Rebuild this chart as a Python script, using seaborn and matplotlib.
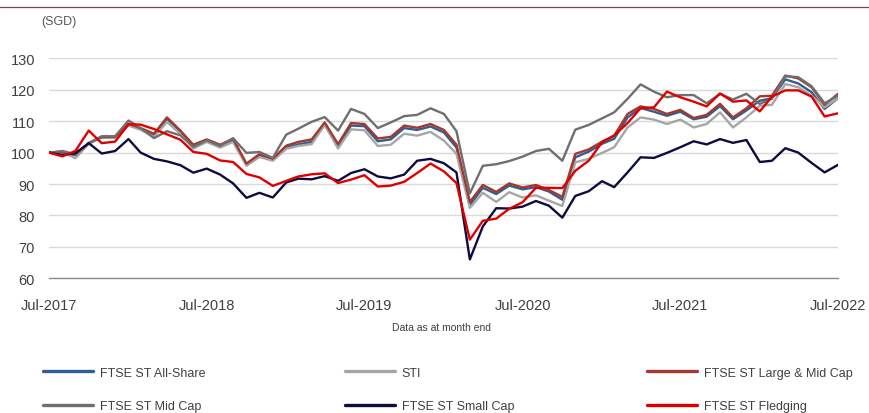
import pandas as pd
import matplotlib
matplotlib.use("Agg")
import matplotlib.pyplot as plt
from matplotlib.lines import Line2D
import seaborn as sns

# monthly index values, Jul-2017 .. Jul-2022 (rebased to 100)
months = pd.date_range('2017-07-31', periods=61, freq='ME')

all_share = [100, 100.1, 99.2, 103, 104.8, 104.8, 108.8, 107.5, 105.6, 110.8, 106.6, 102,
             103.8, 102.1, 104, 96.1, 99.1, 97.8, 101.6, 102.6, 103.4, 108.9, 102, 108.6,
             108.4, 103.6, 104.2, 107.8, 107.2, 108.3, 106.4, 101.6, 83.3, 88.8, 86.8, 89.5,
             88.3, 89, 87.6, 85, 98.5, 100.3, 102.8, 104.4, 111.2, 114.2, 113, 111.7,
             113, 110.6, 111.4, 114.8, 110.6, 113.4, 116.5, 117.3, 123.3, 122, 119.2, 113.9,
             117.3]
sti = [100, 100.3, 98.2, 102.8, 105, 104.6, 108.6, 107.3, 105, 109.7, 106, 101.3,
       103.4, 101.6, 103.4, 95.8, 98.6, 97.4, 101.2, 102.1, 102.7, 108.8, 101.3, 107.4,
       107.1, 102.1, 102.5, 106, 105.4, 106.6, 103.8, 99.6, 82.4, 87.2, 84.3, 87.4,
       85.7, 86.4, 84.7, 83, 96.9, 98, 99.9, 101.7, 108, 111.2, 110.5, 109.1,
       110.5, 108, 109.1, 112.8, 108, 111.2, 114.9, 115.2, 121.8, 120.8, 118.1, 114.4,
       117.3]
large_mid = [100, 100.2, 99.3, 103, 105, 105, 109.2, 107.8, 106, 111.2, 107, 102.5,
             104.2, 102.5, 104.4, 96.5, 99.5, 98.1, 102.2, 103.4, 104.2, 109.6, 102.7, 109.4,
             109.1, 104.5, 105, 108.6, 107.9, 109.1, 107.2, 102.5, 84.3, 89.7, 87.5, 90.2,
             88.9, 89.7, 88.1, 85.9, 99.6, 101, 103.5, 105.4, 112.3, 114.7, 113.9, 112.3,
             113.6, 111, 112, 115.5, 111.2, 114.1, 117.9, 118.1, 124.5, 123.6, 120.8, 115.2,
             118.7]
mid_cap = [100, 100.5, 99.5, 103, 105.2, 105.2, 110.2, 107.8, 104.6, 106.8, 105.5, 101.8,
           103.9, 102.1, 104.6, 99.9, 100.2, 98.3, 105.7, 107.6, 109.8, 111.3, 107, 113.9,
           112.3, 107.8, 109.6, 111.6, 112, 114.1, 112.3, 106.8, 87, 95.8, 96.3, 97.3,
           98.7, 100.5, 101.2, 97.4, 107.3, 108.8, 110.9, 112.8, 117.1, 121.7, 119.4, 117.6,
           118.3, 118.3, 115.7, 118.7, 116.9, 118.7, 115.5, 117.1, 124.3, 124, 121.1, 115.7,
           118.1]
small_cap = [100, 99.2, 99.8, 103, 99.7, 100.5, 104.3, 100, 98, 97.2, 96, 93.6,
             94.9, 93, 90.2, 85.6, 87.2, 85.7, 90.5, 91.7, 91.5, 92.5, 91, 93.5,
             94.7, 92.4, 91.8, 93, 97.4, 98, 96.6, 93.7, 66, 76.5, 82.3, 82.2,
             82.8, 84.6, 83.1, 79.3, 86.2, 87.7, 90.9, 89, 93.7, 98.5, 98.3, 99.9,
             101.7, 103.6, 102.6, 104.3, 103.1, 104, 97, 97.4, 101.4, 100, 96.7, 93.7,
             96.1]
fledging = [100, 98.8, 100.5, 107, 103, 103.5, 109, 108.9, 107.5, 105.8, 104.1, 100.2,
            99.6, 97.5, 97, 93.2, 92.1, 89.4, 91, 92.4, 93.1, 93.4, 90.3, 91.4,
            92.8, 89.2, 89.5, 90.7, 93.5, 96.5, 94, 90.3, 72.3, 78.3, 79, 82.1,
            84.2, 88.8, 88.8, 88.7, 94.2, 97.4, 103.3, 105.4, 109.4, 114.1, 114.4, 119.4,
            117.6, 116.2, 114.7, 118.8, 116.2, 116.6, 113.1, 117.8, 119.8, 119.8, 117.8, 111.5,
            112.5]

names = ['FTSE ST All-Share', 'STI', 'FTSE ST Large & Mid Cap',
         'FTSE ST Mid Cap', 'FTSE ST Small Cap', 'FTSE ST Fledging']
colors = ['#2f5f92', '#a6a6a6', '#a5382c', '#6f6f6f', '#0c0c40', '#e00000']
series = [all_share, sti, large_mid, mid_cap, small_cap, fledging]

df = pd.concat([pd.DataFrame({'date': months, 'value': s, 'index': n})
                for n, s in zip(names, series)], ignore_index=True)

sns.set_style('white')
plt.rcParams['font.family'] = ['Liberation Sans', 'DejaVu Sans']

fig = plt.figure(figsize=(8.7, 4.14), dpi=100)
ax = fig.add_axes([49/870, 1-279.3/414, (838-49)/870, 220/414])

sns.lineplot(data=df, x='date', y='value', hue='index', hue_order=names,
             palette=dict(zip(names, colors)), linewidth=1.7, legend=False, ax=ax)

ax.set_ylim(60, 130)
ax.set_xlim(months[0], months[-1])
ax.set_yticks(range(60, 131, 10))
ax.set_xticks(months[::12])
ax.set_xticklabels([d.strftime('%b-%Y') for d in months[::12]])
ax.yaxis.grid(True, color='#d9d9d9', linewidth=1.0)
ax.set_axisbelow(True)
for s in ['top', 'right', 'left']:
    ax.spines[s].set_visible(False)
ax.spines['bottom'].set_color('#8c8c8c')
ax.spines['bottom'].set_linewidth(1.0)
ax.tick_params(axis='y', length=0, pad=10, labelsize=10.5, labelcolor='#404040')
ax.tick_params(axis='x', length=3.5, width=1.0, color='#8c8c8c', direction='out',
               pad=11, labelsize=10.5, labelcolor='#404040')
ax.set_xlabel('')
ax.set_ylabel('')

fig.text(41/870, 1-22/414, '(SGD)', fontsize=9, color='#595959', va='center', ha='left')
fig.text(442/870, 1-328/414, 'Data as at month end', fontsize=7.5, color='#404040',
         va='center', ha='center')
fig.add_artist(Line2D([0, 1], [1-8.3/414, 1-8.3/414], color='#7f3f55', linewidth=0.9))

# legend in three columns, two rows each
cols = [(0, 3), (1, 4), (2, 5)]
xs = [43, 345, 647]
for (a, b), x in zip(cols, xs):
    handles = [Line2D([0], [0], color=colors[k], lw=2.4) for k in (a, b)]
    fig.legend(handles, [names[a], names[b]], loc='center left',
               bbox_to_anchor=(x/870, 1-390.5/414), frameon=False, fontsize=9,
               handlelength=4.0, handletextpad=0.55, labelspacing=1.72,
               borderpad=0, borderaxespad=0, labelcolor='#404040')

fig.savefig('out.png', dpi=100)
